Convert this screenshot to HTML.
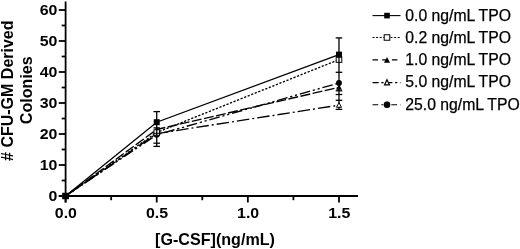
<!DOCTYPE html>
<html><head><meta charset="utf-8"><title>chart</title>
<style>html,body{margin:0;padding:0;background:#fff}svg{display:block}</style></head><body>
<svg width="520" height="249" viewBox="0 0 520 249">
<rect width="520" height="249" fill="#fff"/>
<g stroke="#000" stroke-width="1.8" fill="none">
<line x1="65.6" y1="1.5" x2="65.6" y2="202.5"/>
<line x1="58.8" y1="196.0" x2="358" y2="196.0"/>
<line x1="58.8" y1="196.00" x2="65.6" y2="196.00"/>
<line x1="61.7" y1="180.50" x2="65.6" y2="180.50"/>
<line x1="58.8" y1="165.00" x2="65.6" y2="165.00"/>
<line x1="61.7" y1="149.50" x2="65.6" y2="149.50"/>
<line x1="58.8" y1="134.00" x2="65.6" y2="134.00"/>
<line x1="61.7" y1="118.50" x2="65.6" y2="118.50"/>
<line x1="58.8" y1="103.00" x2="65.6" y2="103.00"/>
<line x1="61.7" y1="87.50" x2="65.6" y2="87.50"/>
<line x1="58.8" y1="72.00" x2="65.6" y2="72.00"/>
<line x1="61.7" y1="56.50" x2="65.6" y2="56.50"/>
<line x1="58.8" y1="41.00" x2="65.6" y2="41.00"/>
<line x1="61.7" y1="25.50" x2="65.6" y2="25.50"/>
<line x1="58.8" y1="10.00" x2="65.6" y2="10.00"/>
<line x1="65.60" y1="196.0" x2="65.60" y2="202.5"/>
<line x1="111.16" y1="196.0" x2="111.16" y2="200.2"/>
<line x1="156.72" y1="196.0" x2="156.72" y2="202.5"/>
<line x1="202.29" y1="196.0" x2="202.29" y2="200.2"/>
<line x1="247.85" y1="196.0" x2="247.85" y2="202.5"/>
<line x1="293.41" y1="196.0" x2="293.41" y2="200.2"/>
<line x1="338.98" y1="196.0" x2="338.98" y2="202.5"/>
</g>
<g font-family="Liberation Sans, Arial, Helvetica, sans-serif" font-weight="bold" font-size="15.4" fill="#000">
<text transform="translate(57.4,201.40) scale(1.035,1)" text-anchor="end">0</text>
<text transform="translate(57.4,170.40) scale(1.035,1)" text-anchor="end">10</text>
<text transform="translate(57.4,139.40) scale(1.035,1)" text-anchor="end">20</text>
<text transform="translate(57.4,108.40) scale(1.035,1)" text-anchor="end">30</text>
<text transform="translate(57.4,77.40) scale(1.035,1)" text-anchor="end">40</text>
<text transform="translate(57.4,46.40) scale(1.035,1)" text-anchor="end">50</text>
<text transform="translate(57.4,15.40) scale(1.035,1)" text-anchor="end">60</text>
<text transform="translate(65.90,218.2) scale(1.035,1)" text-anchor="middle">0.0</text>
<text transform="translate(157.03,218.2) scale(1.035,1)" text-anchor="middle">0.5</text>
<text transform="translate(248.15,218.2) scale(1.035,1)" text-anchor="middle">1.0</text>
<text transform="translate(339.28,218.2) scale(1.035,1)" text-anchor="middle">1.5</text>
<text x="215" y="244.5" text-anchor="middle" font-size="16.1">[G-CSF](ng/mL)</text>
<text transform="translate(12.9,90.7) rotate(-90)" text-anchor="middle" font-size="16"># CFU-GM Derived</text>
<text transform="translate(31.6,90.2) rotate(-90)" text-anchor="middle" font-size="16.1">Colonies</text>
</g>
<g stroke="#000" stroke-width="1.3" fill="none">
<line x1="156.72" y1="111.6" x2="156.72" y2="146.4"/>
<line x1="153.42" y1="111.6" x2="160.03" y2="111.6"/>
<line x1="153.42" y1="127.9" x2="160.03" y2="127.9"/>
<line x1="153.42" y1="143.2" x2="160.03" y2="143.2"/>
<line x1="153.42" y1="146.4" x2="160.03" y2="146.4"/>
<line x1="338.98" y1="37.9" x2="338.98" y2="109.3"/>
<line x1="335.68" y1="37.9" x2="342.28" y2="37.9"/>
<line x1="335.68" y1="72.3" x2="342.28" y2="72.3"/>
<line x1="335.68" y1="90.8" x2="342.28" y2="90.8"/>
<line x1="335.68" y1="94.5" x2="342.28" y2="94.5"/>
<line x1="335.68" y1="100.3" x2="342.28" y2="100.3"/>
<line x1="335.68" y1="109.4" x2="342.28" y2="109.4"/>
</g>
<polyline points="65.60,196.00 156.72,122.22 338.98,54.64" fill="none" stroke="#000" stroke-width="1.35"/>
<polyline points="65.60,196.00 156.72,132.51 338.98,59.60" fill="none" stroke="#000" stroke-width="1.35" stroke-dasharray="2.2 1.6"/>
<polyline points="65.60,196.00 156.72,129.50 338.98,87.34" fill="none" stroke="#000" stroke-width="1.35" stroke-dasharray="10 2.4"/>
<polyline points="65.60,196.00 156.72,133.60 338.98,105.17" fill="none" stroke="#000" stroke-width="1.35" stroke-dasharray="12.5 3 2 3" stroke-dashoffset="13.4"/>
<polyline points="65.60,196.00 156.72,134.81 338.98,83.00" fill="none" stroke="#000" stroke-width="1.35" stroke-dasharray="10.7 2.8 2.2 2.8 2.2 2.8"/>
<circle cx="65.60" cy="196.00" r="2.95" fill="#000"/>
<circle cx="156.72" cy="134.81" r="2.95" fill="#000"/>
<circle cx="338.98" cy="83.00" r="2.95" fill="#000"/>
<polygon points="65.60,193.30 68.10,198.10 63.10,198.10" fill="#fff" stroke="#000" stroke-width="1"/>
<polygon points="156.72,130.90 159.22,135.70 154.22,135.70" fill="#fff" stroke="#000" stroke-width="1"/>
<polygon points="338.98,102.47 341.48,107.27 336.48,107.27" fill="#fff" stroke="#000" stroke-width="1"/>
<polygon points="65.60,192.80 68.60,198.50 62.60,198.50" fill="#000"/>
<polygon points="156.72,126.30 159.72,132.00 153.72,132.00" fill="#000"/>
<polygon points="338.98,84.14 341.98,89.84 335.98,89.84" fill="#000"/>
<rect x="62.80" y="193.25" width="5.6" height="5.5" fill="#fff" stroke="#000" stroke-width="1"/>
<rect x="153.92" y="129.76" width="5.6" height="5.5" fill="#fff" stroke="#000" stroke-width="1"/>
<line x1="156.72" y1="129.51" x2="156.72" y2="135.51" stroke="#000" stroke-width="1.3"/>
<line x1="153.72" y1="133.31" x2="159.72" y2="133.31" stroke="#000" stroke-width="1.1"/>
<rect x="336.18" y="56.85" width="5.6" height="5.5" fill="#fff" stroke="#000" stroke-width="1"/>
<line x1="338.98" y1="56.60" x2="338.98" y2="62.60" stroke="#000" stroke-width="1.3"/>
<rect x="62.60" y="193.00" width="6" height="6" fill="#000"/>
<rect x="153.72" y="119.22" width="6" height="6" fill="#000"/>
<rect x="335.98" y="51.64" width="6" height="6" fill="#000"/>
<g font-family="Liberation Sans, Arial, Helvetica, sans-serif" font-size="15.75" fill="#000" stroke="#000" stroke-width="0.25">
<line x1="372.5" y1="15.6" x2="400.5" y2="15.6" stroke="#000" stroke-width="1.1"/>
<rect x="384.20" y="12.80" width="5.6" height="5.6" fill="#000" stroke="none"/>
<text x="405.3" y="20.7">0.0 ng/mL <tspan dx="-0.3">TPO</tspan></text>
<line x1="372.5" y1="37.5" x2="400.5" y2="37.5" stroke="#000" stroke-width="1.1" stroke-dasharray="2 1.6"/>
<rect x="384.20" y="34.75" width="5.6" height="5.5" fill="#fff" stroke="#000" stroke-width="1"/>
<text x="405.3" y="42.6">0.2 ng/mL <tspan dx="-0.3">TPO</tspan></text>
<line x1="372.5" y1="59.9" x2="400.5" y2="59.9" stroke="#000" stroke-width="1.1" stroke-dasharray="5.5 4.2"/>
<polygon points="387.00,57.00 390.00,62.80 384.00,62.80" fill="#000" stroke="none"/>
<text x="405.3" y="65.0">1.0 ng/mL <tspan dx="-0.3">TPO</tspan></text>
<line x1="372.5" y1="82.6" x2="400.5" y2="82.6" stroke="#000" stroke-width="1.1" stroke-dasharray="6.2 2.6 2.3 2.6"/>
<polygon points="387.00,79.70 389.50,84.90 384.50,84.90" fill="#fff" stroke="#000" stroke-width="1.15"/>
<text x="405.3" y="87.3">5.0 ng/mL <tspan dx="-0.3">TPO</tspan></text>
<line x1="372.5" y1="104.7" x2="400.5" y2="104.7" stroke="#000" stroke-width="1.1" stroke-dasharray="5.8 3 2 3 2 3"/>
<circle cx="387.00" cy="104.70" r="3.2" fill="#000"/>
<text x="405.3" y="109.9">25.0 ng/mL <tspan dx="-0.3">TPO</tspan></text>
</g>
</svg></body></html>
